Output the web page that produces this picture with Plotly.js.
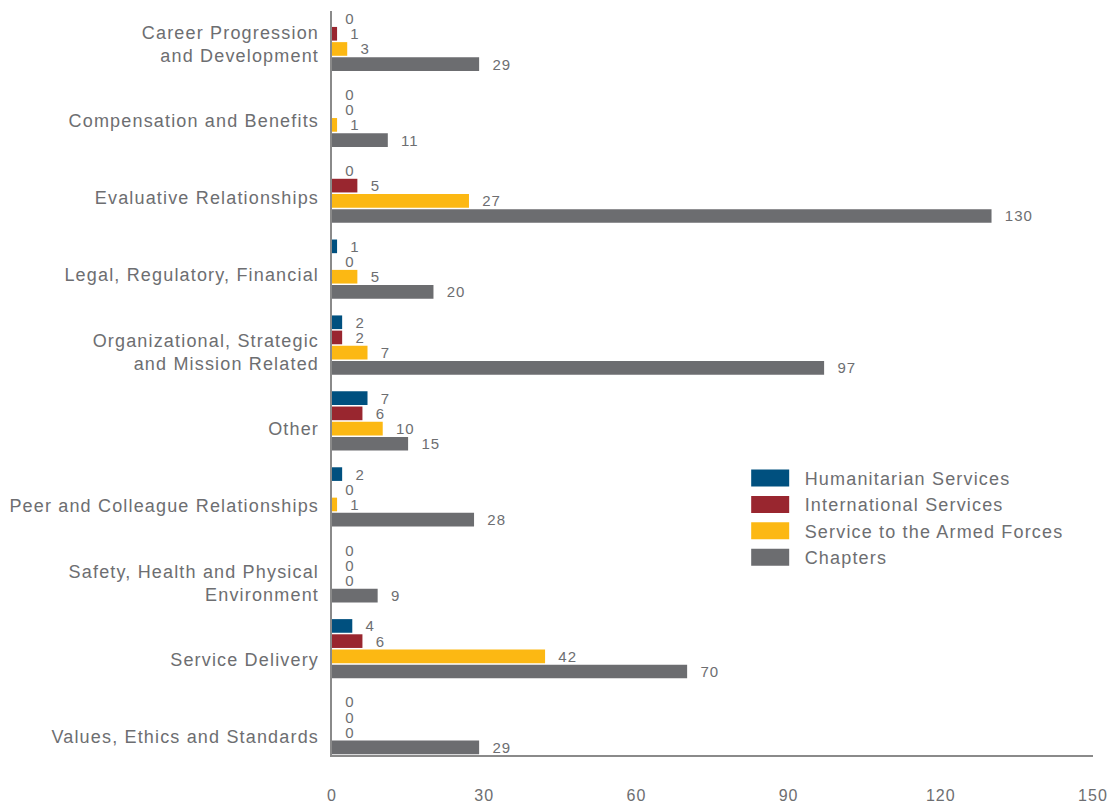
<!DOCTYPE html>
<html>
<head>
<meta charset="utf-8">
<script src="https://cdn.plot.ly/plotly-3.0.1.min.js"></script>
<style>
  html, body { margin: 0; padding: 0; background: #fff; }
  #chart { width: 1115px; height: 806px; }
  /* tipografia algo mas abierta, como la del original */
  text { letter-spacing: 0.065em; }
</style>
</head>
<body>
<div id="chart"></div>
<script>
const categorias = [
  "Career Progression<br>and Development",
  "Compensation and Benefits",
  "Evaluative Relationships",
  "Legal, Regulatory, Financial",
  "Organizational, Strategic<br>and Mission Related",
  "Other",
  "Peer and Colleague Relationships",
  "Safety, Health and Physical<br>Environment",
  "Service Delivery",
  "Values, Ethics and Standards",
];

const humanitarian = [0, 0, 0, 1, 2, 7, 2, 0, 4, 0];
const international = [1, 0, 5, 0, 2, 6, 0, 0, 6, 0];
const armedForces = [3, 1, 27, 5, 7, 10, 1, 0, 42, 0];
const chapters = [29, 11, 130, 20, 97, 15, 28, 9, 70, 29];

const series = [
  { name: "Humanitarian Services", valores: humanitarian, color: "#00507f" },
  { name: "International Services", valores: international, color: "#99262f" },
  { name: "Service to the Armed Forces", valores: armedForces, color: "#fcb813" },
  { name: "Chapters", valores: chapters, color: "#6c6d70" },
];

const gris = "#6d6e71";
const fuente = "Liberation Sans, Arial, sans-serif";

const traces = series.map((s) => ({
  type: "bar",
  orientation: "h",
  name: s.name,
  x: s.valores,
  y: categorias,
  marker: { color: s.color },
  texttemplate: "\u00a0\u00a0%{x}",
  textposition: "outside",
  constraintext: "none",
  cliponaxis: false,
  textfont: { family: fuente, size: 15, color: gris },
  hovertemplate: "%{y}<br>" + s.name + ": %{x}<extra></extra>",
}));

// traza invisible que solo sirve para el eje de etiquetas (y2),
// algo mas espaciado que las barras como en el original
traces.push({
  type: "scatter",
  mode: "none",
  x: chapters,
  y: categorias,
  yaxis: "y2",
  showlegend: false,
  hoverinfo: "skip",
});

Plotly.newPlot("chart", traces, {
  width: 1115,
  height: 806,
  font: { family: fuente, color: gris },
  paper_bgcolor: "#fff",
  plot_bgcolor: "#fff",
  barmode: "group",
  bargap: 0.2,
  bargroupgap: 0.1,
  margin: { l: 332, r: 22, t: 11, b: 51 },
  xaxis: {
    range: [0, 150],
    dtick: 30,
    showgrid: false,
    zeroline: false,
    showline: true,
    linecolor: "#8a8a8a",
    linewidth: 1.5,
    ticks: "",
    ticklabelstandoff: 25,
    tickfont: { size: 16, color: gris },
  },
  yaxis: {
    type: "category",
    range: [9.4, -0.4],
    showgrid: false,
    zeroline: false,
    showline: true,
    linecolor: "#8a8a8a",
    linewidth: 1.5,
    ticks: "",
    showticklabels: false,
  },
  yaxis2: {
    type: "category",
    anchor: "x",
    overlaying: "y",
    side: "left",
    range: [9.234, -0.4286],
    showgrid: false,
    zeroline: false,
    showline: false,
    ticks: "",
    ticklabelstandoff: 12,
    tickfont: { size: 18, color: gris },
  },
  legend: {
    x: 0.5423,
    y: 0.3967,
    xanchor: "left",
    yanchor: "top",
    traceorder: "normal",
    itemwidth: 50,
    font: { size: 18, color: gris },
    bgcolor: "rgba(0,0,0,0)",
  },
  showlegend: true,
}, { displayModeBar: false }).then(() => {
  // muestras de leyenda mas anchas, como en el original
  document.querySelectorAll(".legendpoints path").forEach((p) => {
    p.setAttribute("d", "M14.5,8.5H-23.5V-8.5H14.5Z");
  });
});
</script>
</body>
</html>
